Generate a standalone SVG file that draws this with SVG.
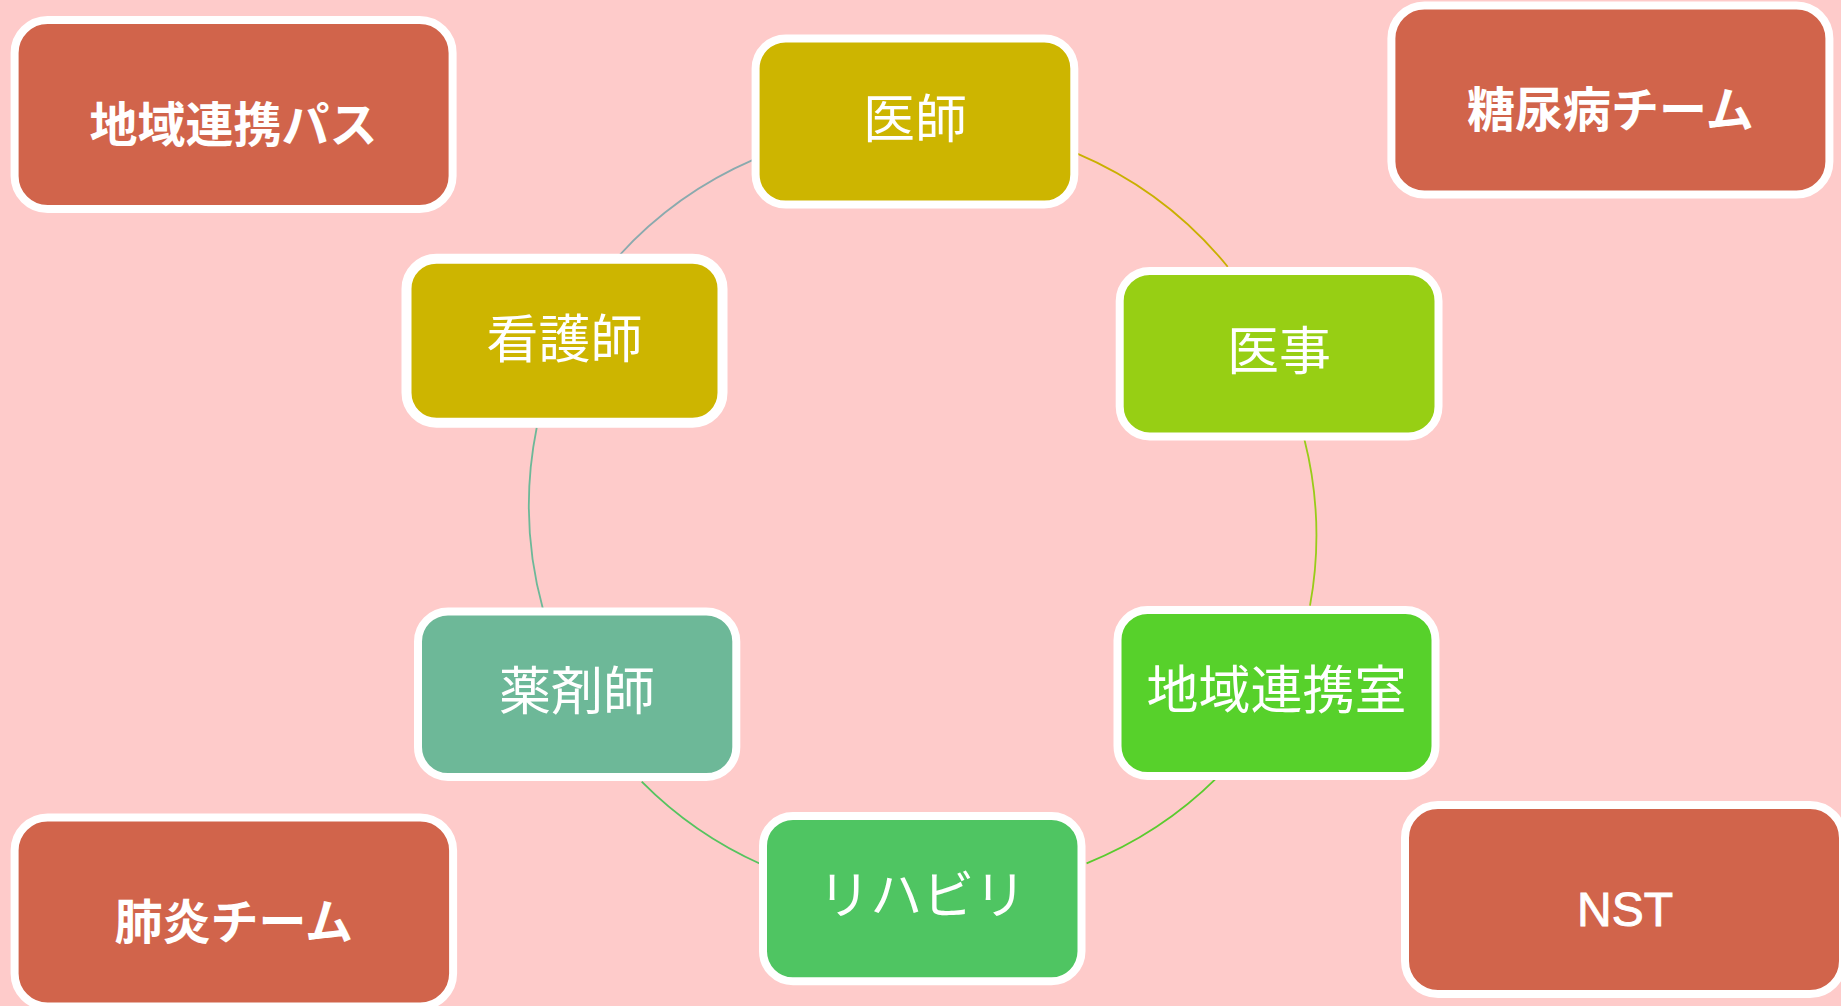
<svg xmlns="http://www.w3.org/2000/svg" width="1841" height="1006" viewBox="0 0 1841 1006">
<style>
.box{stroke:#ffffff;stroke-width:8}
.team{fill:#D1644B}
.team-t{font-family:"Noto Sans CJK JP","Liberation Sans",sans-serif;font-weight:700;font-size:48px;fill:#ffffff;text-anchor:middle}
.role-t{font-family:"Noto Sans CJK JP","Liberation Sans",sans-serif;font-weight:400;font-size:52px;fill:#ffffff;text-anchor:middle}
.lat-t{font-family:"Liberation Sans",Arial,sans-serif;font-size:48px;fill:#ffffff;stroke:#ffffff;stroke-width:0.9;text-anchor:middle}
.conn{fill:none;stroke-width:1.8}
</style>
<rect x="0" y="0" width="1841" height="1006" fill="#FECBCA"/>
<g id="connectors">
<path class="conn" stroke="#8AAAAE" d="M618.7,256 A392,392 0 0 1 753.6,159.7"/>
<path class="conn" stroke="#C9B000" d="M1076.7,153.3 A392,392 0 0 1 1227.7,266.7"/>
<path class="conn" stroke="#98CC18" d="M1304.3,439 A392,392 0 0 1 1310,605.7"/>
<path class="conn" stroke="#5ACB2E" d="M1217,777.7 A392,392 0 0 1 1086.6,863.3"/>
<path class="conn" stroke="#55C45F" d="M761.2,864.3 A392,392 0 0 1 641.7,781.7"/>
<path class="conn" stroke="#6DB898" d="M543,609.3 A392,392 0 0 1 536.7,427.7"/>
</g>
<g id="node-renkei-pass">
<rect class="box team" x="14.6" y="20" width="438" height="189" rx="33"/>
<text class="team-t" x="233.6" y="142">地域連携パス</text>
</g>
<g id="node-tonyobyo">
<rect class="box team" x="1391.4" y="5.5" width="438" height="189" rx="33"/>
<text class="team-t" x="1610.4" y="127">糖尿病チーム</text>
</g>
<g id="node-haien">
<rect class="box team" x="14.6" y="817.5" width="438.5" height="189" rx="33"/>
<text class="team-t" x="233.8" y="939">肺炎チーム</text>
</g>
<g id="node-nst">
<rect class="box team" x="1405" y="805" width="438" height="189" rx="33"/>
<text class="lat-t" x="1625" y="926">NST</text>
</g>
<g id="node-ishi">
<rect class="box" fill="#CDB500" x="755.6" y="38.5" width="318.7" height="166" rx="30"/>
<text class="role-t" x="915" y="138">医師</text>
</g>
<g id="node-iji">
<rect class="box" fill="#97CF14" x="1119.7" y="271" width="318.8" height="165.4" rx="30"/>
<text class="role-t" x="1279" y="370">医事</text>
</g>
<g id="node-kangoshi">
<rect class="box" fill="#CDB500" style="stroke-width:10" x="406.5" y="258.7" width="316" height="164" rx="30"/>
<text class="role-t" x="564.5" y="357.5">看護師</text>
</g>
<g id="node-yakuzaishi">
<rect class="box" fill="#6DB898" x="418" y="611.5" width="318.3" height="165.5" rx="30"/>
<text class="role-t" x="577" y="710">薬剤師</text>
</g>
<g id="node-renkeishitsu">
<rect class="box" fill="#57D12B" x="1117.5" y="610" width="318" height="166" rx="30"/>
<text class="role-t" x="1276.5" y="709">地域連携室</text>
</g>
<g id="node-rehabili">
<rect class="box" fill="#4FC562" x="763" y="816" width="318.5" height="165.3" rx="30"/>
<text class="role-t" x="922.3" y="914">リハビリ</text>
</g>
</svg>
